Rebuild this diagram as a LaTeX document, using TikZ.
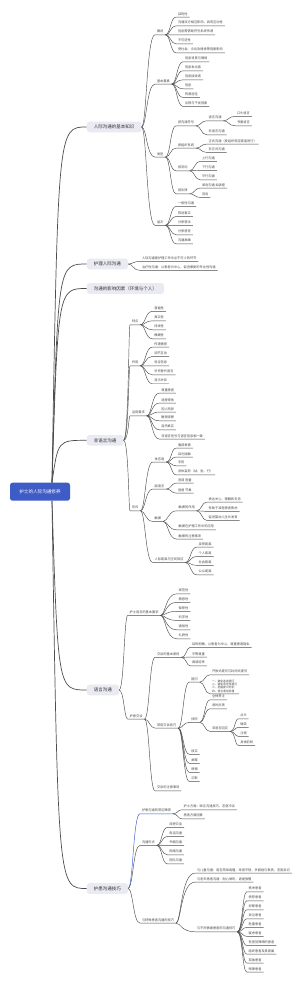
\documentclass[tikz,border=0pt]{standalone}
\usepackage{fontspec}
\newfontfamily\cjk{Noto Sans CJK SC}
\usetikzlibrary{calc}
\definecolor{rootblue}{HTML}{3F5CC6}
\definecolor{branchfill}{HTML}{E9EAF2}
\definecolor{linegray}{HTML}{4D4D4D}
\definecolor{textgray}{HTML}{4A4A4A}
\definecolor{pickblue}{HTML}{3558D6}

\begin{document}
\begin{tikzpicture}[x=1pt, y=-1pt,
  root/.style={fill=rootblue, rounded corners=2.5pt, text=white, font=\cjk\fontsize{4.6}{5.5}\selectfont, minimum width=60pt, minimum height=18pt, inner sep=0pt},
  branch/.style={fill=branchfill, rounded corners=2.5pt, text=black!80, font=\cjk\fontsize{4.5}{5.4}\selectfont, anchor=west, inner xsep=7pt, inner ysep=0pt, minimum height=10.6pt},
  topic/.style={text=textgray, font=\cjk\fontsize{3.2}{3.8}\selectfont, anchor=west, inner xsep=1.8pt, inner ysep=1.4pt},
  link/.style={draw=linegray, line width=0.45pt, to path={.. controls ($(\tikztostart)+(5,0)$) and ($(\tikztostart |- \tikztotarget)+(5,0)$) .. (\tikztotarget)}},
  trunk/.style={draw=linegray, line width=0.7pt, to path={.. controls ($(\tikztostart |- \tikztotarget)+(6,0)$) and ($(\tikztostart |- \tikztotarget)+(6,0)$) .. (\tikztotarget)}}
]
\path[use as bounding box, fill=white] (0,0) rectangle (300,983);

% root and main branches
\node[root] (root) at (40,491.7) {护士的人际沟通修养};
\node[branch] (basics) at (86.7,127) {人际沟通的基本知识};
\node[branch] (nursing) at (86.7,264) {护理人际沟通};
\node[branch] (factors) at (86.7,288.5) {沟通的影响因素（环境与个人）};
\node[branch] (nonverbal) at (86.7,440.3) {非语言沟通};
\node[branch] (verbal) at (86.7,690) {语言沟通};
\node[branch] (skills) at (86.7,888.5) {护患沟通技巧};
\foreach \n in {basics,nursing,factors,nonverbal}
  \draw[trunk] ([xshift=12pt]root.north) to (\n.west);
\foreach \n in {verbal,skills}
  \draw[trunk] ([xshift=12pt]root.south) to (\n.west);

% basics
\node[topic] (overview) at (155,31.7) {概述};
\node[topic] (ov1) at (176,14) {目的性};
\node[topic] (ov2) at (176,22.7) {沟通双方相互影响，具有互动性};
\node[topic] (ov3) at (176,31.7) {信息需借助符号系统传递};
\node[topic] (ov4) at (176,40.7) {不可逆性};
\node[topic] (ov5) at (176,49.7) {受社会、文化及情境等因素影响};
\node[topic] (elements) at (155,81) {基本要素};
\node[topic] (el1) at (183,58.7) {信息背景与情境};
\node[topic] (el2) at (183,67.7) {信息发出者};
\node[topic] (el3) at (183,76.7) {信息接收者};
\node[topic] (el4) at (183,85.7) {信息};
\node[topic] (el5) at (183,94.3) {传递途径};
\node[topic] (el6) at (183,103.3) {反馈与干扰因素};
\node[topic] (types) at (155,154) {类型};
\node[topic] (tsym) at (176,122.7) {按沟通符号};
\node[topic] (tverbal) at (206.7,117.7) {语言沟通};
\node[topic] (toral) at (235,113.3) {口头语言};
\node[topic] (twritten) at (235,122.7) {书面语言};
\node[topic] (tnonverb) at (206.7,131.7) {非语言沟通};
\node[topic] (tchan) at (176,145) {按组织系统};
\node[topic] (tformal) at (206.7,141) {正式沟通（按组织规定渠道进行）};
\node[topic] (tinformal) at (206.7,149.3) {非正式沟通};
\node[topic] (tflow) at (176,167.7) {按流向};
\node[topic] (tup) at (200,158.3) {上行沟通};
\node[topic] (tdown) at (200,167.3) {下行沟通};
\node[topic] (tflat) at (200,176.7) {平行沟通};
\node[topic] (tdir) at (176,190.7) {按反馈};
\node[topic] (tone) at (200,185) {单向沟通 如讲座};
\node[topic] (ttwo) at (200,194.3) {双向};
\node[topic] (levels) at (155,222.3) {层次};
\node[topic] (lv1) at (176,203.3) {一般性沟通};
\node[topic] (lv2) at (176,213.3) {陈述事实};
\node[topic] (lv3) at (176,222.3) {分享想法};
\node[topic] (lv4) at (176,231.7) {分享感觉};
\node[topic] (lv5) at (176,240.7) {沟通高峰};
\foreach \n in {overview,elements,types,levels}
  \draw[link] (basics.east) to (\n.south west) -- (\n.south east);
\foreach \i in {1,...,5}
  \draw[link] (overview.south east) to (ov\i.south west) -- (ov\i.south east);
\foreach \i in {1,...,6}
  \draw[link] (elements.south east) to (el\i.south west) -- (el\i.south east);
\foreach \n in {tsym,tchan,tflow,tdir}
  \draw[link] (types.south east) to (\n.south west) -- (\n.south east);
\foreach \n in {tverbal,tnonverb}
  \draw[link] (tsym.south east) to (\n.south west) -- (\n.south east);
\foreach \n in {toral,twritten}
  \draw[link] (tverbal.south east) to (\n.south west) -- (\n.south east);
\foreach \n in {tformal,tinformal}
  \draw[link] (tchan.south east) to (\n.south west) -- (\n.south east);
\foreach \n in {tup,tdown,tflat}
  \draw[link] (tflow.south east) to (\n.south west) -- (\n.south east);
\foreach \n in {tone,ttwo}
  \draw[link] (tdir.south east) to (\n.south west) -- (\n.south east);
\foreach \i in {1,...,5}
  \draw[link] (levels.south east) to (lv\i.south west) -- (lv\i.south east);

% nursing
\node[topic] (nu1) at (140,258.3) {人际沟通是护理工作中必不可少的环节};
\node[topic] (nu2) at (140,267.3) {治疗性沟通：以患者为中心，促进康复的专业性沟通};
\foreach \n in {nu1,nu2}
  \draw[link] (nursing.east) to (\n.south west) -- (\n.south east);

% nonverbal
\node[topic] (feat) at (130,321.7) {特点};
\node[topic] (fe1) at (152.3,308.3) {普遍性};
\node[topic] (fe2) at (152.3,317.7) {真实性};
\node[topic] (fe3) at (152.3,326.7) {持续性};
\node[topic] (fe4) at (152.3,335.7) {模糊性};
\node[topic] (func) at (130,362.7) {作用};
\node[topic] (fu1) at (152.3,344) {传递情感};
\node[topic] (fu2) at (152.3,353.3) {调节互动};
\node[topic] (fu3) at (152.3,362.7) {验证信息};
\node[topic] (fu4) at (152.3,371.7) {补充替代语言};
\node[topic] (fu5) at (152.3,380.7) {显示关系};
\node[topic] (rule) at (130,412.7) {运用要求};
\node[topic] (ru1) at (159.3,390) {尊重患者};
\node[topic] (ru2) at (159.3,400) {适度得体};
\node[topic] (ru3) at (159.3,409) {因人而异};
\node[topic] (ru4) at (159.3,417.7) {敏锐观察};
\node[topic] (ru5) at (159.3,426.7) {自然真实};
\node[topic] (ru6) at (159.3,436) {非语言信号与语言信息相一致};
\node[topic] (form) at (130,507.7) {形式};
\node[topic] (body) at (152.7,459) {体态语};
\node[topic] (bo1) at (176,445) {面部表情};
\node[topic] (bo2) at (176,454) {目光接触};
\node[topic] (bo3) at (176,462.7) {手势};
\node[topic] (bo4) at (176,471.7) {身体姿势（站、坐、行）};
\node[topic] (para) at (152.7,486) {副语言};
\node[topic] (pa1) at (176,480) {音调 音量};
\node[topic] (pa2) at (176,490) {语速 节奏};
\node[topic] (touch) at (152.7,518.3) {触摸};
\node[topic] (tfun) at (176.7,507.7) {触摸的作用};
\node[topic] (tf1) at (206.7,499) {表达关心、理解和支持};
\node[topic] (tf2) at (206.7,508.3) {有助于减轻患者焦虑};
\node[topic] (tf3) at (206.7,517.3) {促进婴幼儿生长发育};
\node[topic] (tuse) at (176.7,526.7) {触摸在护理工作中的应用};
\node[topic] (tnote) at (176.7,536) {触摸的注意事项};
\node[topic] (space) at (152.7,559.3) {人际距离与空间效应};
\node[topic] (sp1) at (196.7,544) {亲密距离};
\node[topic] (sp2) at (196.7,553.3) {个人距离};
\node[topic] (sp3) at (196.7,562.3) {社会距离};
\node[topic] (sp4) at (196.7,571.7) {公众距离};
\foreach \n in {feat,func,rule,form}
  \draw[link] (nonverbal.east) to (\n.south west) -- (\n.south east);
\foreach \i in {1,...,4}
  \draw[link] (feat.south east) to (fe\i.south west) -- (fe\i.south east);
\foreach \i in {1,...,5}
  \draw[link] (func.south east) to (fu\i.south west) -- (fu\i.south east);
\foreach \i in {1,...,6}
  \draw[link] (rule.south east) to (ru\i.south west) -- (ru\i.south east);
\foreach \n in {body,para,touch,space}
  \draw[link] (form.south east) to (\n.south west) -- (\n.south east);
\foreach \i in {1,...,4}
  \draw[link] (body.south east) to (bo\i.south west) -- (bo\i.south east);
\foreach \n in {pa1,pa2}
  \draw[link] (para.south east) to (\n.south west) -- (\n.south east);
\foreach \n in {tfun,tuse,tnote}
  \draw[link] (touch.south east) to (\n.south west) -- (\n.south east);
\foreach \i in {1,2,3}
  \draw[link] (tfun.south east) to (tf\i.south west) -- (tf\i.south east);
\foreach \i in {1,...,4}
  \draw[link] (space.south east) to (sp\i.south west) -- (sp\i.south east);

% verbal
\node[topic] (req) at (127.7,612.3) {护士语言的基本要求};
\node[topic] (rq1) at (176.7,590.7) {规范性};
\node[topic] (rq2) at (176.7,599.3) {情感性};
\node[topic] (rq3) at (176.7,608.3) {保密性};
\node[topic] (rq4) at (176.7,617.3) {科学性};
\node[topic] (rq5) at (176.7,626.7) {通俗性};
\node[topic] (rq6) at (176.7,635.7) {礼貌性};
\node[topic] (talk) at (127.7,716) {护患交谈};
\node[topic] (prin) at (155,654.3) {交谈的基本原则};
\node[topic] (pr1) at (190,644.3) {目的明确、以患者为中心、尊重患者隐私};
\node[topic] (pr2) at (190,654) {平等尊重};
\node[topic] (pr3) at (190,662.7) {真诚坦率};
\node[topic] (tech) at (155,725) {常用交谈技巧};
\node[topic] (ask) at (189.3,679) {提问};
\node[topic] (ak1) at (210,671.7) {开放式提问与封闭式提问};
\node[topic, align=left, font=\cjk\fontsize{2.8}{3.3}\selectfont] (ak2) at (210,686) {一、避免连续提问\\二、避免诱导性提问\\三、把握提问时机\\四、语言通俗易懂};
\node[topic] (listen) at (189.3,719.3) {倾听};
\node[topic] (li1) at (210,696.7) {全神贯注};
\node[topic] (li2) at (210,705.7) {适时反馈};
\node[topic] (li3) at (210,728.3) {非语言回应};
\node[topic] (lr1) at (238.3,715.7) {点头};
\node[topic] (lr2) at (238.3,724.3) {微笑};
\node[topic] (lr3) at (238.3,733.3) {注视};
\node[topic] (lr4) at (238.3,742.3) {身体前倾};
\node[topic] (verify) at (189.3,751.3) {核实};
\node[topic] (clarify) at (189.3,760.3) {阐释};
\node[topic] (empathy) at (189.3,769.3) {移情};
\node[topic] (silence) at (189.3,778.3) {沉默};
\node[topic] (tnotice) at (155,787.7) {交谈的注意事项};
\foreach \n in {req,talk}
  \draw[link] (verbal.east) to (\n.south west) -- (\n.south east);
\foreach \i in {1,...,6}
  \draw[link] (req.south east) to (rq\i.south west) -- (rq\i.south east);
\foreach \n in {prin,tech,tnotice}
  \draw[link] (talk.south east) to (\n.south west) -- (\n.south east);
\foreach \i in {1,2,3}
  \draw[link] (prin.south east) to (pr\i.south west) -- (pr\i.south east);
\foreach \n in {ask,listen,verify,clarify,empathy,silence}
  \draw[link] (tech.south east) to (\n.south west) -- (\n.south east);
\foreach \n in {ak1,ak2}
  \draw[link] (ask.south east) to (\n.south west) -- (\n.south east);
\foreach \n in {li1,li2,li3}
  \draw[link] (listen.south east) to (\n.south west) -- (\n.south east);
\foreach \i in {1,...,4}
  \draw[link] (li3.south east) to (lr\i.south west) -- (lr\i.south east);

% skills
\node[topic] (barrier) at (140,810.7) {护患沟通的常见障碍};
\node[topic] (ba1) at (181.7,806.7) {护士方面：缺乏沟通技巧、态度冷淡};
\node[topic] (ba2) at (181.7,815.7) {患者方面因素};
\node[topic] (way) at (140,842.3) {沟通形式};
\node[topic] (wa1) at (167.3,824.3) {床旁交谈};
\node[topic] (wa2) at (167.3,833.3) {电话沟通};
\node[topic] (wa3) at (167.3,842.3) {书面沟通};
\node[topic] (wa4) at (167.3,851.7) {网络沟通};
\node[topic] (wa5) at (167.3,860.7) {团队沟通};
\node[topic] (special) at (140,920) {与特殊患者沟通的技巧};
\node[topic] (sc1) at (195,870) {与儿童沟通：语言简单易懂，采用平视，多鼓励与表扬，态度亲切};
\node[topic] (sc2) at (195,879) {与老年患者沟通：耐心倾听，语速放慢};
\node[topic] (mood) at (195,928.7) {与不同情绪患者的沟通技巧};
\node[topic] (mo1) at (246.7,888.7) {焦虑患者};
\node[topic] (mo2) at (246.7,897.7) {愤怒患者};
\node[topic] (mo3) at (246.7,906.7) {抑郁患者};
\node[topic] (mo4) at (246.7,915.7) {哭泣患者};
\node[topic] (mo5) at (246.7,924.3) {危重患者};
\node[topic] (mo6) at (246.7,933.3) {疑虑患者};
\node[topic] (mo7) at (246.7,942.3) {有感觉障碍的患者};
\node[topic] (mo8) at (246.7,951) {临终患者及其家属};
\node[topic] (mo9) at (246.7,960) {孤独患者};
\node[topic] (mo10) at (246.7,969) {残障患者};
\draw[link, draw=pickblue] (skills.east) to (barrier.south west) -- (barrier.south east);
\foreach \n in {way,special}
  \draw[link] (skills.east) to (\n.south west) -- (\n.south east);
\foreach \n in {ba1,ba2}
  \draw[link] (barrier.south east) to (\n.south west) -- (\n.south east);
\foreach \i in {1,...,5}
  \draw[link] (way.south east) to (wa\i.south west) -- (wa\i.south east);
\foreach \n in {sc1,sc2,mood}
  \draw[link] (special.south east) to (\n.south west) -- (\n.south east);
\foreach \i in {1,...,10}
  \draw[link] (mood.south east) to (mo\i.south west) -- (mo\i.south east);
\end{tikzpicture}
\end{document}
